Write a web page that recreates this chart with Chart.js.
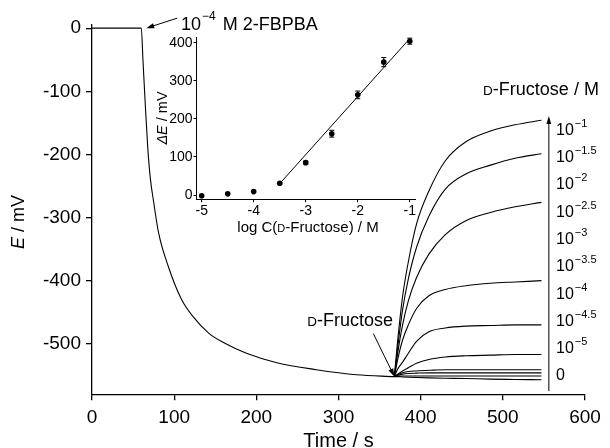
<!DOCTYPE html>
<html><head><meta charset="utf-8">
<script src="https://cdn.jsdelivr.net/npm/chart.js@4.4.1/dist/chart.umd.min.js"></script>
<style>
html,body{margin:0;padding:0;background:#fff;}
#wrap{position:relative;width:610px;height:448px;overflow:hidden;}
#main{position:absolute;left:0;top:0;}
#inset{position:absolute;left:140px;top:20px;}
</style></head><body>
<div id="wrap"><canvas id="main" width="610" height="448"></canvas><canvas id="inset" width="290" height="220"></canvas></div>
<script>
// ---------- main chart data ----------
const xTicks = [0, 100, 200, 300, 400, 500, 600];
const yTicks = [0, -100, -200, -300, -400, -500];
// baseline potential before fructose addition
const baseTime = [0, 60, 62, 65, 68, 71, 75, 81, 93, 109, 123, 142, 160, 188, 225, 273, 322, 368];
const baseE    = [0, 0, -50, -125, -192, -238, -275, -324, -378, -430, -457, -483, -498, -515, -530, -541, -549, -552];
// responses after D-fructose addition
const riseTime = [368, 372, 378, 385, 395, 410, 430, 455, 485, 515, 547];
const eM1   = [-552, -495, -425, -370, -310, -258, -210, -180, -163, -153, -146];
const eM15  = [-552, -506, -446, -397, -347, -298, -255, -231, -217, -206, -199];
const eM2   = [-552, -515, -470, -432, -395, -358, -327, -305, -292, -283, -276];
const eM25  = [-552, -525, -494, -470, -444, -424, -414, -408, -404, -402, -400];
const eM3   = [-552, -540, -529, -515, -496, -481, -475, -472, -471, -470, -470];
const eM35  = [-552, -548, -543, -538, -531, -525, -521, -519, -518, -517, -517];
const eM4   = [-552, -549, -546, -544, -543, -542, -541, -541, -541, -541, -541];
const eM45  = [-552, -550, -548, -547, -546.5, -546, -546, -546, -546, -546, -546];
const eM5   = [-552, -551.5, -551, -551, -551, -551, -551, -551, -551, -551, -551];
const eZero = [-552, -552, -552.5, -553, -553.5, -554, -554.5, -555, -556, -556.5, -557];
const riseSeries = [eM1, eM15, eM2, eM25, eM3, eM35, eM4, eM45, eM5, eZero];
const concExps = ['\u22121', '\u22121.5', '\u22122', '\u22122.5', '\u22123', '\u22123.5', '\u22124', '\u22124.5', '\u22125', null];

// ---------- inset data ----------
const insetXTicks = [-5, -4, -3, -2, -1];
const insetYTicks = [0, 100, 200, 300, 400];
const logC  = [-5, -4.5, -4, -3.5, -3, -2.5, -2, -1.5, -1];
const dE    = [-2, 3, 9, 31, 85, 161, 263, 349, 404];
const dEerr = [0, 0, 0, 2, 4, 9, 10, 12, 8];
const fitLogC = [-3.5, -1];
const fitDE   = [30, 411];

const FAM = "'Liberation Sans', Arial, Helvetica, sans-serif";
Chart.defaults.font.family = FAM;
Chart.defaults.color = '#000';

function fontStr(p){ return (p.italic ? 'italic ' : '') + p.size + 'px ' + FAM; }
function drawRich(ctx, x, y, parts, align){
  let total = 0;
  for (const p of parts){ ctx.font = fontStr(p); p.w = ctx.measureText(p.t).width + (p.gap || 0); total += p.w; }
  let cx = align === 'center' ? x - total / 2 : align === 'right' ? x - total : x;
  ctx.textAlign = 'left'; ctx.textBaseline = 'alphabetic';
  for (const p of parts){ ctx.font = fontStr(p); ctx.fillText(p.t, cx + (p.pre || 0), y + (p.dy || 0)); cx += p.w; }
}
function arrow(ctx, x1, y1, x2, y2, len, half){
  const a = Math.atan2(y2 - y1, x2 - x1);
  ctx.beginPath(); ctx.moveTo(x1, y1); ctx.lineTo(x2 - Math.cos(a) * len * 0.8, y2 - Math.sin(a) * len * 0.8); ctx.stroke();
  ctx.beginPath();
  ctx.moveTo(x2, y2);
  ctx.lineTo(x2 - Math.cos(a) * len + Math.sin(a) * half, y2 - Math.sin(a) * len - Math.cos(a) * half);
  ctx.lineTo(x2 - Math.cos(a) * len - Math.sin(a) * half, y2 - Math.sin(a) * len + Math.cos(a) * half);
  ctx.closePath(); ctx.fill();
}

const mainAnnot = {
  id: 'mainAnnot',
  afterDraw(chart){
    const {ctx, scales: {x, y}} = chart;
    ctx.save();
    ctx.fillStyle = '#000'; ctx.strokeStyle = '#000'; ctx.lineWidth = 1;
    // y axis title
    ctx.save(); ctx.translate(24, 222); ctx.rotate(-Math.PI / 2);
    drawRich(ctx, 0, 0, [{t: 'E', size: 18, italic: true}, {t: ' / mV', size: 18}], 'center');
    ctx.restore();
    // 2-FBPBA addition label + arrow
    const hx = x.getPixelForValue(66), hy = y.getPixelForValue(0);
    arrow(ctx, hx + 31, hy - 10, hx, hy, 8, 2.6);
    drawRich(ctx, 181, 29.5, [{t: '10', size: 18}, {t: '\u22124', size: 12, dy: -10, pre: 1, gap: 3}, {t: ' M 2-FBPBA', size: 18}], 'left');
    // D-Fructose addition label + arrow
    const fx = x.getPixelForValue(riseTime[0]), fy = y.getPixelForValue(riseSeries[0][0]);
    arrow(ctx, fx - 21, fy - 43, fx, fy, 8, 2.6);
    drawRich(ctx, 393, 326, [{t: 'D', size: 13.5}, {t: '-Fructose', size: 18}], 'right');
    // concentration axis arrow
    const ax = x.getPixelForValue(556);
    arrow(ctx, ax, 391, ax, 116, 8, 2.4);
    drawRich(ctx, 541, 95, [{t: 'D', size: 13.5}, {t: '-Fructose / M', size: 18}], 'center');
    concExps.forEach((e, i) => {
      const by = 134.7 + i * 27.3;
      if (e === null) drawRich(ctx, 556, by, [{t: '0', size: 16}], 'left');
      else drawRich(ctx, 556, by, [{t: '10', size: 16}, {t: e, size: 11, dy: -8, pre: 1}], 'left');
    });
    ctx.restore();
  }
};

const datasets = [{data: baseTime.map((t, i) => ({x: t, y: baseE[i]}))}];
riseSeries.forEach(s => datasets.push({data: riseTime.map((t, i) => ({x: t, y: s[i]}))}));
datasets.forEach(d => Object.assign(d, {showLine: true, pointRadius: 0, borderColor: '#000', borderWidth: 1.1, cubicInterpolationMode: 'monotone', fill: false}));

new Chart(document.getElementById('main'), {
  type: 'scatter',
  data: {datasets},
  options: {
    responsive: false, animation: false, events: [],
    layout: {padding: {top: 25, right: 25, left: 0, bottom: 0}},
    plugins: {legend: {display: false}, tooltip: {enabled: false}},
    scales: {
      x: {
        type: 'linear', min: 0, max: 600,
        afterBuildTicks: s => { s.ticks = xTicks.map(v => ({value: v})); },
        afterFit: s => { s.height = 53.7; },
        grid: {display: true, drawOnChartArea: false, drawTicks: true, tickLength: 6, color: '#000', lineWidth: 1.3},
        border: {display: true, color: '#000', width: 1.3},
        ticks: {color: '#000', font: {size: 19}, padding: 6, maxRotation: 0, autoSkip: false},
        title: {display: true, text: 'Time / s', color: '#000', font: {size: 20, lineHeight: 0.7}, padding: {top: 0, bottom: 0}}
      },
      y: {
        type: 'linear', min: -580, max: 5,
        afterBuildTicks: s => { s.ticks = yTicks.map(v => ({value: v})); },
        afterFit: s => { s.width = 92; },
        grid: {display: true, drawOnChartArea: false, drawTicks: true, tickLength: 6, color: '#000', lineWidth: 1.3},
        border: {display: true, color: '#000', width: 1.3},
        ticks: {color: '#000', font: {size: 19}, padding: 5, autoSkip: false}
      }
    }
  },
  plugins: [mainAnnot]
});

// ---------- inset ----------
const insetAnnot = {
  id: 'insetAnnot',
  afterDatasetsDraw(chart){
    const {ctx, scales: {x, y}} = chart;
    ctx.save(); ctx.strokeStyle = '#000'; ctx.fillStyle = '#000'; ctx.lineWidth = 1;
    logC.forEach((c, i) => {
      const e = dEerr[i]; if (!e) return;
      const px = x.getPixelForValue(c), t = y.getPixelForValue(dE[i] + e), b = y.getPixelForValue(dE[i] - e);
      ctx.beginPath(); ctx.moveTo(px, t); ctx.lineTo(px, b);
      ctx.moveTo(px - 2.5, t); ctx.lineTo(px + 2.5, t);
      ctx.moveTo(px - 2.5, b); ctx.lineTo(px + 2.5, b); ctx.stroke();
    });
    // titles
    drawRich(ctx, 168, 212, [{t: 'log C(', size: 15}, {t: 'D', size: 11}, {t: '-Fructose) / M', size: 15}], 'center');
    ctx.save(); ctx.translate(27, 98); ctx.rotate(-Math.PI / 2);
    drawRich(ctx, 0, 0, [{t: '\u0394E', size: 14.5, italic: true}, {t: ' / mV', size: 14.5}], 'center');
    ctx.restore();
    ctx.restore();
  }
};

new Chart(document.getElementById('inset'), {
  type: 'scatter',
  data: {datasets: [
    {data: logC.map((c, i) => ({x: c, y: dE[i]})), showLine: false, pointRadius: 2.8, pointBackgroundColor: '#000', pointBorderColor: '#000', pointBorderWidth: 0},
    {data: fitLogC.map((c, i) => ({x: c, y: fitDE[i]})), showLine: true, pointRadius: 0, borderColor: '#000', borderWidth: 1}
  ]},
  options: {
    responsive: false, animation: false, events: [],
    layout: {padding: {top: 17, right: 15, left: 0, bottom: 0}},
    plugins: {legend: {display: false}, tooltip: {enabled: false}},
    scales: {
      x: {
        type: 'linear', min: -5.1, max: -0.9,
        afterBuildTicks: s => { s.ticks = insetXTicks.map(v => ({value: v})); },
        afterFit: s => { s.height = 40.8; },
        grid: {display: true, drawOnChartArea: false, drawTicks: true, tickLength: 3, color: '#000', lineWidth: 1},
        border: {display: true, color: '#000', width: 1},
        ticks: {color: '#000', font: {size: 14}, padding: 1, maxRotation: 0, autoSkip: false}
      },
      y: {
        type: 'linear', min: -11, max: 415,
        afterBuildTicks: s => { s.ticks = insetYTicks.map(v => ({value: v})); },
        afterFit: s => { s.width = 56.5; },
        grid: {display: true, drawOnChartArea: false, drawTicks: true, tickLength: 3, color: '#000', lineWidth: 1},
        border: {display: true, color: '#000', width: 1},
        ticks: {color: '#000', font: {size: 14}, padding: 1, autoSkip: false}
      }
    }
  },
  plugins: [insetAnnot]
});
</script>
</body></html>
